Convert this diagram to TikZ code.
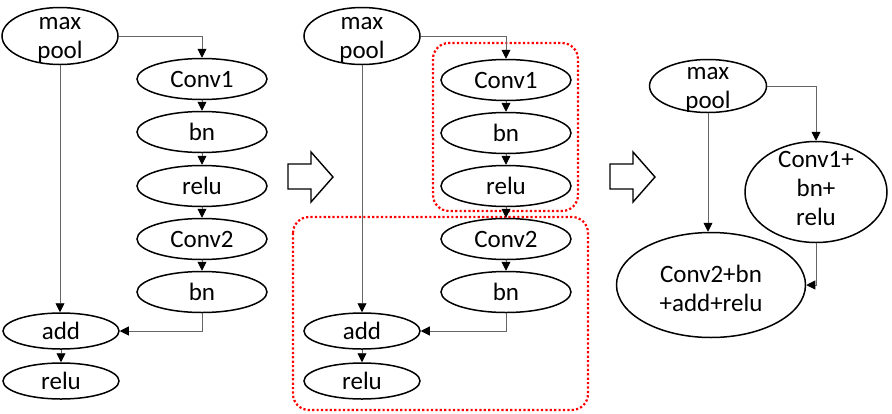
\documentclass[tikz,border=0pt]{standalone}
\usepackage{fontspec}
\setmainfont{Carlito}
\usetikzlibrary{shapes.geometric,arrows.meta}
\tikzset{
  blk/.style={ellipse, draw, line width=1.5pt, inner sep=0pt, minimum width=130pt, minimum height=41pt},
  small/.style={blk, minimum width=116pt, minimum height=36pt},
  txt/.style={align=center, inner sep=0pt},
  link/.style={draw=black!60, line width=0.9pt, -{Triangle[width=9pt,length=9pt,black]}},
  group/.style={draw=red, line width=2.2pt, dash pattern=on 2.2pt off 2.2pt, rounded corners=16pt},
  fwd/.style={draw, line width=1.4pt, line join=miter}
}
\begin{document}
\begin{tikzpicture}[x=1pt, y=-1pt, font=\fontsize{25pt}{29pt}\selectfont]
    \useasboundingbox (0,0) rectangle (892,413);

    % left: original block
    \node[blk, minimum width=116pt, minimum height=57pt, label={[txt,yshift=-4pt]center:max\\pool}] (poolA) at (60,36) {};
    \node[blk] (convA) at (202,79) {Conv1};
    \node[blk] (bnA) at (202,132) {bn};
    \node[blk] (reluA) at (202,186) {relu};
    \node[blk] (convB) at (202,239) {Conv2};
    \node[blk] (bnB) at (202,292) {bn};
    \node[small] (addA) at (61,331) {add};
    \node[small] (outA) at (61,381) {relu};

    \draw[link] (poolA.east) -| (convA.north);
    \draw[link] (convA) -- (bnA);
    \draw[link] (bnA) -- (reluA);
    \draw[link] (reluA) -- (convB);
    \draw[link] (convB) -- (bnB);
    \draw[link] (bnB.south) |- (addA.east);
    \draw[link] (poolA.south) -- (poolA.south |- addA.north);
    \draw[link] (addA) -- (outA);

    % middle: groups marked for fusion
    \draw[group] (433,43) rectangle (578,211);
    \draw[group] (293,217) rectangle (588,410);

    \node[blk, minimum width=116pt, minimum height=57pt, label={[txt,yshift=-4pt]center:max\\pool}] (poolM) at (362,36) {};
    \node[blk] (convM) at (506,80) {Conv1};
    \node[blk] (bnM) at (506,133) {bn};
    \node[blk] (reluM) at (506,186) {relu};
    \node[blk] (convN) at (506,239) {Conv2};
    \node[blk] (bnN) at (506,292) {bn};
    \node[small] (addM) at (362,331) {add};
    \node[small] (outM) at (362,381) {relu};

    \draw[link] (poolM.east) -| (convM.north);
    \draw[link] (convM) -- (bnM);
    \draw[link] (bnM) -- (reluM);
    \draw[link] (reluM) -- (convN);
    \draw[link] (convN) -- (bnN);
    \draw[link] (bnN.south) |- (addM.east);
    \draw[link] (poolM.south) -- (poolM.south |- addM.north);
    \draw[link] (addM) -- (outM);

    % right: fused block
    \node[blk, minimum width=117pt, minimum height=53pt, label={[txt,yshift=-4pt]center:max\\pool}] (poolF) at (708,86) {};
    \node[blk, minimum width=142pt, minimum height=101pt, label={[txt,yshift=4pt]center:Conv1+\\bn+\\relu}] (fuseA) at (816,192) {};
    \node[blk, minimum width=189pt, minimum height=105pt, label={[txt,yshift=-3pt]center:Conv2+bn\\+add+relu}] (fuseB) at (711,285) {};

    \draw[link] (poolF.east) -| (fuseA.north);
    \draw[link] (poolF.south) -- (poolF.south |- fuseB.north);
    \draw[link] (fuseA.south) |- (fuseB.east);

    % hollow arrows between the stages
    \foreach \dx in {0,322} {
      \draw[fwd, xshift=\dx pt] (288,164) -- ++(23,0) -- ++(0,-12) -- (333,177) -- (311,202) -- ++(0,-13) -- (288,189) -- cycle;
    }
\end{tikzpicture}
\end{document}
